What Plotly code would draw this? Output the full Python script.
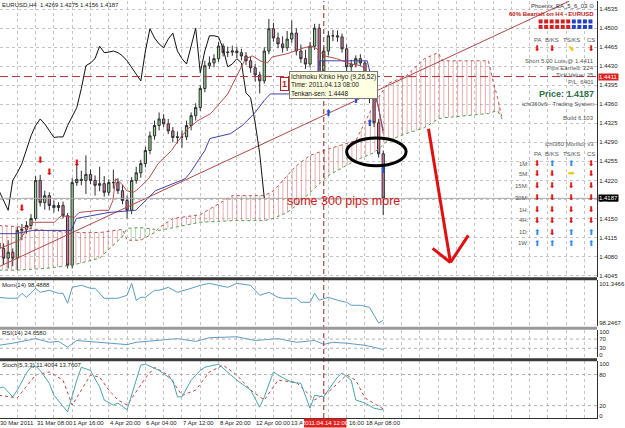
import plotly.graph_objects as go

# ---------------- data ----------------
bars = list(range(85))
opens = [1.4105,1.4095,1.4077,1.4088,1.4077,1.4128,1.4130,1.4137,1.4150,1.4220,
         1.4179,1.4192,1.4174,1.4170,1.4174,1.4155,1.4064,1.4216,1.4222,1.4220,
         1.4231,1.4220,1.4211,1.4214,1.4198,1.4216,1.4216,1.4201,1.4183,1.4165,
         1.4220,1.4234,1.4251,1.4275,1.4302,1.4321,1.4333,1.4324,1.4311,1.4299,
         1.4300,1.4300,1.4321,1.4339,1.4354,1.4389,1.4431,1.4436,1.4444,1.4467,
         1.4455,1.4456,1.4458,1.4455,1.4449,1.4440,1.4427,1.4414,1.4403,1.4458,
         1.4499,1.4482,1.4471,1.4464,1.4480,1.4491,1.4458,1.4444,1.4434,1.4467,
         1.4500,1.4418,1.4458,1.4486,1.4486,1.4484,1.4462,1.4429,1.4434,1.4444,
         1.4436,1.4381,1.4372,1.4326,1.4269]
highs = [1.4112,1.4104,1.4110,1.4095,1.4135,1.4140,1.4145,1.4158,1.4228,1.4230,
         1.4201,1.4198,1.4183,1.4180,1.4181,1.4160,1.4224,1.4251,1.4238,1.4266,
         1.4240,1.4229,1.4245,1.4228,1.4222,1.4240,1.4224,1.4212,1.4192,1.4226,
         1.4245,1.4258,1.4282,1.4310,1.4330,1.4345,1.4342,1.4333,1.4318,1.4310,
         1.4312,1.4330,1.4345,1.4362,1.4395,1.4440,1.4448,1.4452,1.4475,1.4472,
         1.4466,1.4468,1.4466,1.4462,1.4456,1.4447,1.4434,1.4420,1.4465,1.4517,
         1.4510,1.4492,1.4485,1.4495,1.4514,1.4500,1.4470,1.4460,1.4475,1.4508,
         1.4508,1.4465,1.4495,1.4497,1.4496,1.4490,1.4470,1.4442,1.4450,1.4452,
         1.4440,1.4392,1.4378,1.4333,1.4275]
lows = [1.4082,1.4065,1.4058,1.4062,1.4055,1.4110,1.4122,1.4130,1.4146,1.4172,
        1.4166,1.4165,1.4161,1.4163,1.4150,1.4058,1.4058,1.4210,1.4211,1.4195,
        1.4213,1.4192,1.4200,1.4190,1.4192,1.4205,1.4195,1.4176,1.4150,1.4158,
        1.4214,1.4225,1.4244,1.4268,1.4295,1.4312,1.4318,1.4305,1.4290,1.4288,
        1.4280,1.4294,1.4312,1.4330,1.4348,1.4382,1.4425,1.4428,1.4438,1.4448,
        1.4447,1.4449,1.4445,1.4441,1.4432,1.4418,1.4402,1.4380,1.4398,1.4452,
        1.4475,1.4463,1.4455,1.4458,1.4473,1.4450,1.4436,1.4425,1.4428,1.4460,
        1.4410,1.4412,1.4450,1.4476,1.4475,1.4455,1.4420,1.4420,1.4428,1.4430,
        1.4375,1.4362,1.4318,1.4262,1.4156]
closes = [1.4095,1.4077,1.4088,1.4077,1.4128,1.4130,1.4137,1.4150,1.4220,1.4179,
          1.4192,1.4174,1.4170,1.4174,1.4155,1.4064,1.4216,1.4222,1.4220,1.4231,
          1.4220,1.4211,1.4214,1.4198,1.4216,1.4216,1.4201,1.4183,1.4165,1.4220,
          1.4234,1.4251,1.4275,1.4302,1.4321,1.4333,1.4324,1.4311,1.4299,1.4300,
          1.4300,1.4321,1.4339,1.4354,1.4389,1.4431,1.4436,1.4444,1.4467,1.4455,
          1.4456,1.4458,1.4455,1.4449,1.4440,1.4427,1.4414,1.4403,1.4458,1.4499,
          1.4482,1.4471,1.4464,1.4480,1.4491,1.4458,1.4444,1.4434,1.4467,1.4500,
          1.4418,1.4458,1.4486,1.4486,1.4484,1.4462,1.4429,1.4434,1.4444,1.4436,
          1.4381,1.4372,1.4326,1.4269,1.4187]
chikou_shift = 26

tenkan_bars = [0.2,4.5,7.1,12.1,13.6,16.5,17.5,21.9,24,24.9,25.5,26.8,27.9,29.4,30.5,32.7,34.8,37.7,39.2,41.3,
               43.5,46.3,50,52.2,53.9,55.4,57.1,58.7,59.7,63,66.7,68.4,69.5,71.2,73.8,77,79.2,80.7,82,83.1,84]
tenkan = [1.4095,1.4110,1.4143,1.4143,1.4155,1.4152,1.4161,1.4165,1.4165,1.4183,1.4223,1.4214,1.4201,1.4198,
          1.4205,1.4223,1.4251,1.4275,1.4293,1.4315,1.4330,1.4343,1.4379,1.4416,1.4444,1.4449,1.4440,1.4436,
          1.4447,1.4453,1.4464,1.4467,1.4462,1.4449,1.4444,1.4434,1.4431,1.4418,1.4398,1.4348,1.4306]
kijun_bars = [0.2,3.5,7.4,15.8,16.9,24,29.9,34.2,40.7,41.8,43.5,45,46.1,50.6,53.2,55.8,58,59.3,69.5,70.1,80.5,82,83.1,84]
kijun = [1.4122,1.4122,1.4128,1.4128,1.4150,1.4161,1.4165,1.4201,1.4223,1.4234,1.4256,1.4275,1.4297,1.4306,
         1.4321,1.4343,1.4367,1.4379,1.4379,1.4440,1.4440,1.4390,1.4348,1.4311]

senkou_bars = [0,4,10,16,22,27,28,31,34,35,38,44,51,58,60,63,65,68,72,78,82,85,89,93,96,97,107,108,109,110]
senkou_a = [1.4055,1.4055,1.4058,1.4064,1.4077,1.4117,1.4132,1.4133,1.4130,1.4128,1.4133,1.4143,1.4146,1.4146,
            1.4150,1.4161,1.4174,1.4198,1.4229,1.4257,1.4271,1.4293,1.4306,1.4317,1.4333,1.4335,1.4343,1.4346,1.4348,1.4333]
senkou_b = [1.4137,1.4135,1.4128,1.4124,1.4124,1.4130,1.4110,1.4110,1.4124,1.4133,1.4150,1.4157,1.4192,1.4192,
            1.4201,1.4229,1.4247,1.4266,1.4278,1.4293,1.4361,1.4398,1.4412,1.4444,1.4455,1.4440,1.4440,1.4403,1.4372,1.4333]

trend_bars = [0.2, 124.7]
trend_prices = [1.4062, 1.4550]
entry_price = 1.4411
bid_price = 1.4187
cursor_bar = 71

sell_bars = [5, 9, 11, 17]
sell_prices = [1.4168, 1.4256, 1.4234, 1.4251]
buy_bars = [72, 78, 81, 84]
buy_prices = [1.4343, 1.4367, 1.4324, 1.4238]

mom_bars = [0,2,4,5,6,8,9,11,13,14,15,16,18,20,21,23,26,28,29,30,31,32,34,35,37,39,42,44,46,48,50,52,55,57,59,61,
            62,65,66,68,69,70,72,74,76,77,79,81,83,84]
mom = [100.313,100.234,100.234,100.631,100.313,101.029,100.711,100.870,100.631,100.631,99.836,101.108,101.267,
       101.029,101.029,100.234,100.234,100.472,101.426,100.075,100.313,100.313,100.870,100.870,101.108,100.711,
       101.029,101.267,101.426,101.267,101.108,101.426,101.267,100.472,100.711,100.313,100.234,100.234,99.916,
       99.916,100.631,100.075,100.313,100.075,99.916,99.677,99.677,99.518,98.2467,98.4888]
rsi_bars = [0,3,8,11,13,15,17,22,28,30,35,39,43,46,52,56,61,65,69,71,73,76,80,83,84]
rsi = [43,52,72,56,60,35,64,56,46,56,64,72,60,76,80,64,72,56,64,47,56,52,43,27,24.658]
stoch_bars = [0,1,3,4,6,7,8,9,11,12,15,17,18,20,22,23,25,26,28,30,31,32,35,38,39,40,42,44,45,48,50,52,55,57,58,
              60,61,64,66,68,69,71,72,74,75,77,78,80,82,84]
stoch_main = [54,56,37,50,83,94,96,88,63,40,8,69,94,88,56,31,21,25,12,69,98,100,88,69,37,37,69,88,94,100,85,69,
              50,17,37,85,79,65,63,15,40,37,50,75,83,69,31,25,15,11.4094]
sig_bars = [0,4,8,11,14,16,20,22,24,26,28,32,34,37,40,43,46,49,52,55,58,61,65,69,72,76,78,80,84]
stoch_signal = [40,35,79,85,69,21,79,75,50,31,21,73,94,79,40,50,85,98,79,50,31,69,65,31,46,79,69,35,13.7607]

price_ticks = [1.4045,1.4080,1.4115,1.4150,1.4185,1.4220,1.4255,1.4290,1.4325,1.4360,1.4395,1.4430,1.4465,1.4500,1.4535]
x_tick_bars = [0, 8, 16, 24, 32, 40, 48, 56, 64, 72, 80]
x_tick_text = ["30 Mar 2011", "31 Mar 08:00", "1 Apr 16:00", "4 Apr 20:00", "6 Apr 04:00", "7 Apr 12:00",
               "8 Apr 20:00", "12 Apr 00:00", "13 Apr 08:00", "14 Apr 16:00", "18 Apr 08:00"]
cursor_label = "2011.04.14 12:00"

monitor_rows = ["1M:", "5M:", "15M:", "30M:", "1H:", "4H:", "1D:", "1W:"]
monitor_cols = ["PA", "B/KS", "TS/KS", "CS"]
monitor_sig = [["d","u","u","d"],["d","d","r","d"],["d","d","d","d"],["d","d","d","d"],
               ["d","d","d","d"],["d","d","d","d"],["u","d","u","u"],["u","u","u","u"]]
top_sig = ["d", "d", "dr", "d"]
strength_colors = ["r"]*6 + ["b"]*4

# ---------------- layout helpers ----------------
W, H = 625, 428
MR, MB = 22, 10
PW, PH = W - MR, H - MB
X0 = 0.2165
X1 = X0 + PW / 4.62

def px(x):
    return x / PW

def py(y):
    return 1 - y / PH

def bar_px(b):
    return (b - X0) * 4.62

FONT = "Liberation Sans"
GRID = "#c4c4c4"
CLOUD_RED = "#c94f4f"
CLOUD_GREEN = "#4f9f4f"

fig = go.Figure()

# cloud
def cloud(idx, color):
    xs = [senkou_bars[i] for i in idx]
    fig.add_trace(go.Scatter(x=xs, y=[senkou_b[i] for i in idx], mode="lines", line=dict(width=0),
                             hoverinfo="skip", showlegend=False))
    fig.add_trace(go.Scatter(x=xs, y=[senkou_a[i] for i in idx], mode="lines", line=dict(width=0),
                             fill="tonexty", fillcolor="rgba(0,0,0,0)",
                             fillpattern=dict(shape="|", fgcolor=color, bgcolor="rgba(0,0,0,0)",
                                              size=4.6, solidity=0.2),
                             hoverinfo="skip", showlegend=False))

n = len(senkou_bars)
cloud(list(range(0, 6)), CLOUD_RED)
cloud(list(range(6, 9)), CLOUD_GREEN)
cloud(list(range(9, n)), CLOUD_RED)
fig.add_trace(go.Scatter(x=senkou_bars, y=senkou_b, mode="lines",
                         line=dict(color="#c05050", width=1, dash="dot"), showlegend=False))
fig.add_trace(go.Scatter(x=senkou_bars, y=senkou_a, mode="lines",
                         line=dict(color=CLOUD_GREEN, width=1, dash="dot"), showlegend=False))

# trend line
fig.add_trace(go.Scatter(x=trend_bars, y=trend_prices, mode="lines",
                         line=dict(color="#b04848", width=1), showlegend=False))

# chikou (close shifted back), kijun, tenkan
fig.add_trace(go.Scatter(x=[b - chikou_shift for b in bars[chikou_shift:]], y=closes[chikou_shift:],
                         mode="lines", line=dict(color="#111111", width=1), showlegend=False))
fig.add_trace(go.Scatter(x=kijun_bars, y=kijun, mode="lines", line=dict(color="#4040a8", width=1),
                         showlegend=False))
fig.add_trace(go.Scatter(x=tenkan_bars, y=tenkan, mode="lines", line=dict(color="#b04c4c", width=1),
                         showlegend=False))

fig.add_trace(go.Candlestick(x=bars, open=opens, high=highs, low=lows, close=closes,
                             increasing=dict(fillcolor="#9ad49a", line=dict(color="#2e2e2e", width=1)),
                             decreasing=dict(fillcolor="#d27aa6", line=dict(color="#2e2e2e", width=1)),
                             whiskerwidth=0, showlegend=False))

# signal arrows
ARW = "DejaVu Sans"
fig.add_trace(go.Scatter(x=sell_bars, y=sell_prices, mode="text", text=["⬇"]*len(sell_bars),
                         textfont=dict(size=9, color="#e01010", family=ARW), showlegend=False))
fig.add_trace(go.Scatter(x=buy_bars, y=buy_prices, mode="text", text=["⬆"]*len(buy_bars),
                         textfont=dict(size=9, color="#1f4fd0", family=ARW), showlegend=False))

# indicators
fig.add_trace(go.Scatter(x=mom_bars, y=mom, xaxis="x2", yaxis="y2", mode="lines",
                         line=dict(color="#5b9bc4", width=1), showlegend=False))
fig.add_trace(go.Scatter(x=rsi_bars, y=rsi, xaxis="x3", yaxis="y3", mode="lines",
                         line=dict(color="#5b9bc4", width=1), showlegend=False))
fig.add_trace(go.Scatter(x=sig_bars, y=stoch_signal, xaxis="x4", yaxis="y4", mode="lines",
                         line=dict(color="#c04040", width=1, dash="dot"), showlegend=False))
fig.add_trace(go.Scatter(x=stoch_bars, y=stoch_main, xaxis="x4", yaxis="y4", mode="lines",
                         line=dict(color="#4aa6a6", width=1), showlegend=False))

xcommon = dict(range=[X0, X1], showticklabels=False, showgrid=True, gridcolor=GRID, griddash="dot",
               gridwidth=1, dtick=4, tick0=0, zeroline=False, fixedrange=True)
tf = dict(size=6, family=FONT, color="#222")
fig.update_layout(
    width=W, height=H, margin=dict(l=0, r=MR, t=0, b=MB),
    paper_bgcolor="white", plot_bgcolor="white", showlegend=False,
    xaxis=dict(**xcommon, anchor="y", rangeslider=dict(visible=False)),
    xaxis2=dict(**xcommon, anchor="y2", matches="x"),
    xaxis3=dict(**xcommon, anchor="y3", matches="x"),
    xaxis4=dict(**xcommon, anchor="y4", matches="x", showline=True, linecolor="#303030"),
    yaxis=dict(domain=[1 - 277 / PH, 1], range=[1.40417, 1.4550], side="right", tickvals=price_ticks,
               ticktext=["%.4f" % v for v in price_ticks], tickfont=tf, showgrid=True, gridcolor=GRID,
               griddash="dot", zeroline=False, showline=True, linecolor="#303030", ticks=""),
    yaxis2=dict(domain=[1 - 326 / PH, 1 - 280 / PH], range=[98.008, 101.665], side="right",
                tickvals=[98.2467, 101.3466], ticktext=["98.2467", "101.3466"], tickfont=tf, showgrid=False,
                zeroline=False, showline=True, linecolor="#303030"),
    yaxis3=dict(domain=[1 - 357 / PH, 1 - 330 / PH], range=[-8.7, 108.7], side="right",
                tickvals=[0, 30, 70, 100], tickfont=tf, showgrid=False, zeroline=False, showline=True,
                linecolor="#303030"),
    yaxis4=dict(domain=[0, 1 - 361 / PH], range=[-3.8, 105.8], side="right",
                tickvals=[0, 20, 80, 100], tickfont=tf, showgrid=False, zeroline=False, showline=True,
                linecolor="#303030"),
)

# level lines
for yref, lv in [("y3", 70), ("y3", 30), ("y4", 80), ("y4", 20)]:
    fig.add_shape(type="line", xref="x", yref=yref, x0=X0, x1=X1, y0=lv, y1=lv,
                  line=dict(color="#b0b0b0", width=1, dash="dot"))
# horizontal price lines
fig.add_shape(type="line", xref="x", yref="y", x0=X0, x1=X1, y0=bid_price, y1=bid_price,
              line=dict(color="#a8a8a8", width=1))
fig.add_shape(type="line", xref="x", yref="y", x0=X0, x1=X1, y0=entry_price, y1=entry_price,
              line=dict(color="#b03030", width=1, dash="8px,4px"))
# cursor vertical line
fig.add_shape(type="line", xref="x", yref="paper", x0=cursor_bar, x1=cursor_bar, y0=0, y1=1,
              line=dict(color="#a02020", width=1, dash="5px,3px"))
# panel separators
for yy, col in [(278.5, "#3a3a3a"), (328, "#9a9a9a"), (359.5, "#3a3a3a")]:
    fig.add_shape(type="line", xref="paper", yref="paper", x0=0, x1=1, y0=py(yy), y1=py(yy),
                  line=dict(color=col, width=3))

# ellipse + big arrow (hand-drawn annotation marks)
fig.add_shape(type="circle", xref="x", yref="y", x0=76.0, x1=89.0, y0=1.4247, y1=1.4298,
              line=dict(color="black", width=3))
for (xa, ya, xb, yb) in [(93.9, 1.4315, 98.7, 1.4069), (94.8, 1.4095, 98.7, 1.4069), (102.6, 1.4119, 98.7, 1.4069)]:
    fig.add_shape(type="line", xref="x", yref="y", x0=xa, y0=ya, x1=xb, y1=yb,
                  line=dict(color="#e01010", width=3))


def txt(x, y, s, size=6, color="#222", anchor="left", family=FONT, **kw):
    fig.add_annotation(x=px(x), y=py(y), xref="paper", yref="paper", text=s, showarrow=False,
                       xanchor=anchor, yanchor="middle", font=dict(size=size, color=color, family=family),
                       borderpad=0, **kw)


txt(1, 4, "EURUSD,H4  1.4269 1.4275 1.4156 1.4187", size=6)
txt(1, 285, "Mom(14) 98.4888", size=6)
txt(1, 333, "RSI(14) 24.6580", size=6)
txt(1, 365, "Stoch(5,3,3) 11.4094 13.7607", size=6)

# x labels (the cursor label box hides part of two of them, as in the original)
cur_l = bar_px(cursor_bar) - 20
cur_r = bar_px(cursor_bar) + 23
for b, t in zip(x_tick_bars, x_tick_text):
    xl = bar_px(b)
    if xl < cur_l < xl + 34:
        t = t[:4]
        xl = xl - 2
    elif xl < cur_r < xl + 34:
        t = t.split(" ")[-1]
        xl = cur_r + 1
    txt(xl, 423, t, size=6)
fig.add_shape(type="rect", xref="paper", yref="paper", x0=px(cur_l), x1=px(cur_r), y0=py(427.5), y1=py(418.5),
              fillcolor="#e02020", line=dict(width=0))
txt(bar_px(cursor_bar) + 1.5, 423, cursor_label, size=6, color="white", anchor="center")

# right price boxes
txt(604, (1.4550 - entry_price) / 0.0001835, "1.4411", size=6, color="white", bgcolor="#e02020")
txt(604, (1.4550 - bid_price) / 0.0001835, "1.4187", size=6, color="white", bgcolor="#000000")

# tooltip
fig.add_annotation(x=px(292), y=py(70), xref="paper", yref="paper", xanchor="left", yanchor="top",
                   text="Ichimoku Kinko Hyo (9,26,52)<br>Time: 2011.04.13 08:00<br>Tenkan-sen: 1.4448",
                   align="left", showarrow=False, bgcolor="#ffffe1", bordercolor="#7a7a7a", borderwidth=1,
                   borderpad=1, font=dict(size=6.5, family=FONT, color="#111"))
fig.add_annotation(x=px(287.5), y=py(76), xref="paper", yref="paper", text="<b>1</b>", showarrow=False,
                   bgcolor="white", bordercolor="#c02020", borderwidth=1, borderpad=1,
                   font=dict(size=9, family=FONT, color="#c02020"))

txt(289, 200, "some 300 pips more", size=12.5, color="#d01818",
    family="Liberation Sans Narrow, Arial Narrow, sans-serif")

# EA panel
txt(601, 5, "Phoenix_EA_5_6_03 ⊙", size=6, color="#333", anchor="right")
txt(601, 13, "<b>60% Bearish on H4 - EURUSD</b>", size=6, color="#c01818", anchor="right")
for row_y in (20.5, 26):
    for i, c in enumerate(strength_colors):
        x0 = 544 + i * 5.6
        fig.add_shape(type="rect", xref="paper", yref="paper", x0=px(x0), x1=px(x0 + 4),
                      y0=py(row_y + 2), y1=py(row_y - 2), line=dict(width=0),
                      fillcolor="#d42020" if c == "r" else "#2040c8")
col_x = [543, 558, 577, 597]
glyph = {"d": ("⬇", "#e01010"), "u": ("⬆", "#2a8ff0"), "r": ("➡", "#e8c800"), "dr": ("⬊", "#e8c800")}
for cx, name in zip(col_x, monitor_cols):
    txt(cx, 39, name, size=6, color="#555", anchor="center")
    txt(cx, 153, name, size=6, color="#555", anchor="center")
for cx, s in zip(col_x, top_sig):
    g, c = glyph[s]
    txt(cx, 48, g, size=8, color=c, anchor="center", family=ARW)
for line_y, s in [(60, "Short 5.00 Lots @ 1.4411"), (67, "Pips Earned: 224"), (74, "Tick Value: 25"),
                  (81, "P/L: 6401"), (103, "ichi360v6 - Trading System"), (117, "Build 6.103"),
                  (143, "ichi360 Monitor v3")]:
    txt(601, line_y, s, size=6, color="#555", anchor="right")
txt(601, 93, "<b>Price: 1.4187</b>", size=9, color="#2a7048", anchor="right")
row_y = [163, 173, 185, 197, 209, 220, 232, 243]
for ry, lab, sigs in zip(row_y, monitor_rows, monitor_sig):
    txt(535, ry, lab, size=6, color="#555", anchor="right")
    for cx, s in zip(col_x, sigs):
        g, c = glyph[s]
        txt(cx, ry, g, size=8, color=c, anchor="center", family=ARW)

fig.write_html("out.html")
